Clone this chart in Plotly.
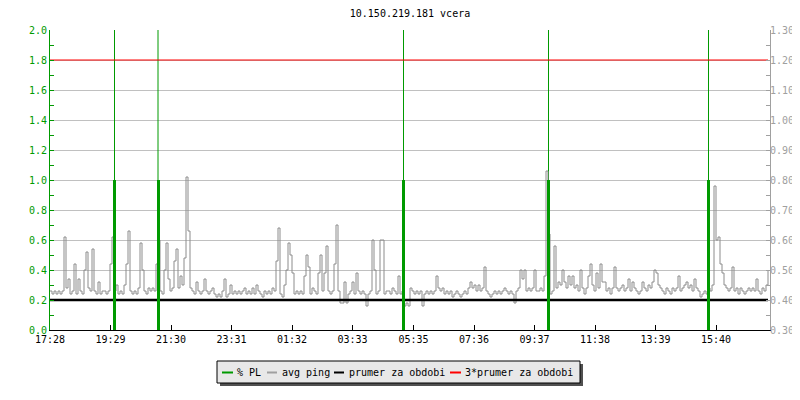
import plotly.graph_objects as go

# ---------------- data ----------------
title_text = "10.150.219.181 vcera"
start_label = "17:28"
step_minutes = 4  # sampling interval of avg ping series

tick_labels = ["17:28", "19:29", "21:30", "23:31", "01:32", "03:33",
               "05:35", "07:36", "09:37", "11:38", "13:39", "15:40"]

# avg ping (right axis), one row per hour, 4-minute samples
avg_ping = [
    0.43, 0.42, 0.43, 0.42, 0.43, 0.42, 0.43, 0.61, 0.44, 0.47, 0.42, 0.43, 0.52, 0.42, 0.47,
    0.43, 0.42, 0.50, 0.56, 0.44, 0.43, 0.57, 0.43, 0.42, 0.46, 0.42, 0.43, 0.43, 0.42, 0.43,
    0.52, 0.61, 0.43, 0.45, 0.42, 0.43, 0.42, 0.45, 0.52, 0.63, 0.43, 0.42, 0.43, 0.42, 0.44,
    0.59, 0.50, 0.43, 0.42, 0.44, 0.43, 0.44, 0.43, 0.52, 0.60, 0.43, 0.42, 0.50, 0.59, 0.47,
    0.43, 0.44, 0.53, 0.57, 0.44, 0.48, 0.45, 0.54, 0.81, 0.63, 0.44, 0.43, 0.42, 0.46, 0.43,
    0.42, 0.43, 0.47, 0.43, 0.42, 0.43, 0.44, 0.42, 0.41, 0.42, 0.41, 0.43, 0.47, 0.41, 0.42,
    0.45, 0.42, 0.43, 0.42, 0.43, 0.42, 0.43, 0.44, 0.42, 0.43, 0.42, 0.44, 0.42, 0.45, 0.43,
    0.42, 0.41, 0.43, 0.42, 0.43, 0.42, 0.44, 0.43, 0.53, 0.64, 0.42, 0.41, 0.45, 0.50, 0.59,
    0.55, 0.49, 0.42, 0.43, 0.42, 0.43, 0.42, 0.48, 0.55, 0.51, 0.42, 0.44, 0.43, 0.42, 0.49,
    0.55, 0.43, 0.49, 0.58, 0.43, 0.42, 0.43, 0.52, 0.65, 0.43, 0.39, 0.39, 0.46, 0.39, 0.42,
    0.43, 0.46, 0.42, 0.49, 0.43, 0.42, 0.43, 0.42, 0.38, 0.42, 0.43, 0.60, 0.50, 0.42, 0.43,
    0.60, 0.60, 0.42, 0.43, 0.43, 0.42, 0.44, 0.43, 0.42, 0.48, 0.42, 0.43, 0.38, 0.39, 0.38,
    0.44, 0.43, 0.42, 0.43, 0.42, 0.43, 0.38, 0.42, 0.43, 0.42, 0.43, 0.42, 0.43, 0.48, 0.44,
    0.43, 0.44, 0.42, 0.43, 0.42, 0.43, 0.41, 0.42, 0.43, 0.42, 0.41, 0.42, 0.43, 0.42, 0.44,
    0.46, 0.44, 0.45, 0.43, 0.45, 0.43, 0.44, 0.51, 0.43, 0.42, 0.41, 0.42, 0.43, 0.42, 0.43,
    0.42, 0.43, 0.44, 0.43, 0.42, 0.43, 0.42, 0.39, 0.43, 0.44, 0.50, 0.47, 0.50, 0.43, 0.44,
    0.43, 0.44, 0.50, 0.43, 0.43, 0.44, 0.43, 0.48, 0.83, 0.62, 0.42, 0.43, 0.58, 0.44, 0.46,
    0.45, 0.50, 0.46, 0.44, 0.48, 0.45, 0.48, 0.44, 0.45, 0.43, 0.50, 0.44, 0.42, 0.44, 0.48,
    0.52, 0.45, 0.43, 0.49, 0.44, 0.52, 0.46, 0.46, 0.43, 0.44, 0.42, 0.44, 0.51, 0.44, 0.43,
    0.44, 0.45, 0.43, 0.44, 0.47, 0.43, 0.46, 0.44, 0.43, 0.42, 0.43, 0.46, 0.44, 0.43, 0.45,
    0.44, 0.46, 0.50, 0.49, 0.45, 0.44, 0.43, 0.42, 0.44, 0.43, 0.42, 0.44, 0.43, 0.44, 0.48,
    0.43, 0.44, 0.45, 0.46, 0.44, 0.45, 0.43, 0.47, 0.44, 0.43, 0.41, 0.42, 0.43, 0.42, 0.44,
    0.43, 0.45, 0.78, 0.60, 0.61, 0.52, 0.49, 0.45, 0.44, 0.43, 0.44, 0.51, 0.43, 0.44, 0.42,
    0.44, 0.43, 0.42, 0.43, 0.44, 0.43, 0.44, 0.43, 0.47, 0.43, 0.42, 0.44, 0.43, 0.45, 0.50,
]

# packet loss events (minutes after start) and their values (left axis)
pl_times = [129, 216, 707, 997, 1317]
pl_values = [1.0, 1.0, 1.0, 1.0, 1.0]

prumer = 0.40          # period average ping (right axis)
prumer3_label = "3*prumer za obdobi"

# ---------------- derived ----------------
t = [i * step_minutes for i in range(len(avg_ping))]
sh, sm = map(int, start_label.split(":"))
def minutes_from_start(lbl):
    h, m = map(int, lbl.split(":"))
    return (h * 60 + m - sh * 60 - sm) % 1440
tick_vals = [minutes_from_start(l) for l in tick_labels]

GREEN = "#009a00"
GRAY = "#a0a0a0"
FONT = "DejaVu Sans Mono"

# layout geometry (screen pixels; page body has an 8px margin)
W, H = 800, 400
OFF = 8
SL, SR, ST, SB = 50, 770, 30, 330
L, R, T, B = SL - OFF, W - (SR - OFF), ST - OFF, H - (SB - OFF)
def px_x(p):
    return (p - SL) / (SR - SL)
def px_y(p):
    return (SB - p) / (SB - ST)

fig = go.Figure()

# thin full-height % PL markers on the main (left) axis
thin_x, thin_y = [], []
for x in pl_times:
    thin_x += [x, x, None]
    thin_y += [0, 2.0, None]
fig.add_trace(go.Scatter(x=thin_x, y=thin_y, mode="lines",
                         line=dict(color=GREEN, width=1), yaxis="y",
                         showlegend=False, hoverinfo="skip"))

fig.add_trace(go.Scatter(x=t, y=avg_ping, mode="lines", name="avg ping",
                         line=dict(color="#8c8c8c", width=1, shape="hv"),
                         yaxis="y2", showlegend=False))
fig.add_trace(go.Scatter(x=[t[0], t[-1]], y=[prumer, prumer], mode="lines",
                         name="prumer za obdobi", line=dict(color="black", width=2.5),
                         yaxis="y2", showlegend=False))
fig.add_trace(go.Scatter(x=[t[0], t[-1]], y=[3 * prumer, 3 * prumer], mode="lines",
                         name=prumer3_label, line=dict(color="#ff0000", width=1),
                         yaxis="y2", showlegend=False))

# thick % PL bars on top
fig.add_trace(go.Bar(x=pl_times, y=pl_values, width=6, name="% PL",
                     marker=dict(color=GREEN, line=dict(width=0)),
                     yaxis="y3", showlegend=False))

fig.update_layout(
    width=W, height=H,
    margin=dict(l=L, r=R, t=T, b=B),
    paper_bgcolor="white", plot_bgcolor="white",
    font=dict(family=FONT, size=10, color="black"),
    title=dict(text=title_text, x=0.5, xref="paper", xanchor="center",
               y=1 - (13.5 - OFF) / H, yref="container", yanchor="middle",
               font=dict(family=FONT, size=10, color="black")),
    xaxis=dict(range=[0, 1440], tickvals=tick_vals, ticktext=tick_labels,
               showgrid=False, zeroline=False, showline=True, linecolor="black",
               linewidth=1, ticks="inside", ticklen=5, tickcolor="black",
               tickfont=dict(family=FONT, size=10, color="black")),
    yaxis=dict(range=[0, 2], dtick=0.2, tickformat=".1f", showgrid=True,
               gridcolor="#c0c0c0", gridwidth=1, zeroline=False, showline=True,
               linecolor=GREEN, linewidth=1, ticks="inside", ticklen=4,
               tickcolor=GREEN, tickfont=dict(family=FONT, size=10, color=GREEN),
               minor=dict(dtick=0.1, ticks="inside", ticklen=4, tickcolor=GREEN,
                          showgrid=False)),
    yaxis2=dict(range=[0.30, 1.30], dtick=0.1, tickformat=".2f", overlaying="y",
                side="right", showgrid=False, zeroline=False, showline=True,
                linecolor=GRAY, linewidth=1, ticks="inside", ticklen=4,
                tickcolor=GRAY, tickfont=dict(family=FONT, size=10, color=GRAY),
                ticklabelstandoff=-3,
                minor=dict(dtick=0.05, ticks="inside", ticklen=4, tickcolor=GRAY)),
    yaxis3=dict(range=[0, 2], overlaying="y", visible=False),
    bargap=0,
    showlegend=False,
)

# custom legend box (with shadow) below the plot
shapes = [
    dict(type="rect", xref="paper", yref="paper", x0=px_x(220), x1=px_x(583),
         y0=px_y(386), y1=px_y(364), fillcolor="#505050", line=dict(width=0),
         layer="above"),
    dict(type="rect", xref="paper", yref="paper", x0=px_x(217), x1=px_x(580),
         y0=px_y(383), y1=px_y(361), fillcolor="#e8e8e8",
         line=dict(color="black", width=1), layer="above"),
]
legend_items = [
    (222, 233, GREEN, "% PL", 235),
    (267, 277, GRAY, "avg ping", 280),
    (334, 344, "black", "prumer za obdobi", 347),
    (450, 461, "#ff0000", prumer3_label, 463),
]
annotations = []
ly = 372.5
for x0, x1, col, txt, tx in legend_items:
    shapes.append(dict(type="line", xref="paper", yref="paper", x0=px_x(x0),
                       x1=px_x(x1), y0=px_y(ly), y1=px_y(ly),
                       line=dict(color=col, width=2), layer="above"))
    annotations.append(dict(text=txt, xref="paper", yref="paper", x=px_x(tx),
                            y=px_y(ly), xanchor="left", yanchor="middle",
                            showarrow=False,
                            font=dict(family=FONT, size=10, color="black")))
fig.update_layout(shapes=shapes, annotations=annotations)

fig.write_html("out.html")
